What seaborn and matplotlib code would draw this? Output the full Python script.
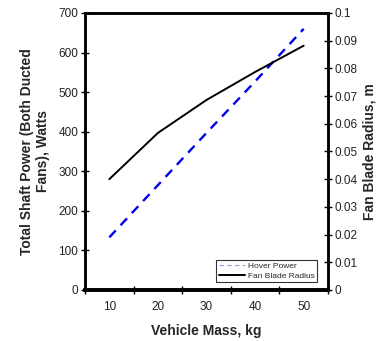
import matplotlib
matplotlib.use("Agg")
import matplotlib.pyplot as plt
import seaborn as sns
import pandas as pd
from matplotlib.ticker import FixedLocator, FuncFormatter

sns.set_theme(style="white")
plt.rcParams['font.family'] = ['Liberation Sans', 'DejaVu Sans']

mass = [10, 20, 30, 40, 50]
hover_power = [133, 265, 397, 527, 660]
fan_radius = [0.040, 0.0567, 0.0686, 0.0787, 0.0882]

df = pd.DataFrame({"mass": mass, "power": hover_power, "radius": fan_radius})

fig = plt.figure(figsize=(3.77, 3.41), dpi=100)
ax = fig.add_axes([0.2255, 0.1496, 0.6445, 0.8123])
ax2 = ax.twinx()

sns.lineplot(data=df, x="mass", y="power", ax=ax, color="#0000ee", lw=1.7,
             linestyle=(0, (4, 3)), label="Hover Power", legend=False)
sns.lineplot(data=df, x="mass", y="radius", ax=ax2, color="black", lw=1.4,
             label="Fan Blade Radius", legend=False)

ax.set_xlim(5, 55)
ax.set_ylim(0, 700)
ax2.set_ylim(0, 0.1)
ax.set_xticks(mass)
ax.xaxis.set_minor_locator(FixedLocator([5, 15, 25, 35, 45, 55]))
ax.tick_params(axis="x", which="major", length=0, labelsize=8.5, pad=8, colors="#222222")
ax.tick_params(axis="x", which="minor", length=6, width=1, direction="inout", color="black", bottom=True)
ax.set_yticks(range(0, 701, 100))
ax.tick_params(axis="y", length=6, width=1, direction="inout", labelsize=8.5, pad=2, colors="#222222")
ax2.set_yticks([i / 100 for i in range(0, 11)])
ax2.yaxis.set_major_formatter(FuncFormatter(lambda v, p: "0" if v == 0 else f"{v:g}"))
ax2.tick_params(axis="y", length=6, width=1, direction="inout", labelsize=8.5, pad=2, colors="#222222")
for a in (ax, ax2):
    a.tick_params(axis="both", color="black")
    for s in a.spines.values():
        s.set_color("black")
        s.set_linewidth(1.8)
    a.spines["bottom"].set_linewidth(2.6)

ax.set_xlabel("Vehicle Mass, kg", fontsize=10, fontweight="bold", labelpad=8)
ax.set_ylabel("Total Shaft Power (Both Ducted\nFans), Watts", fontsize=10, fontweight="bold", labelpad=6)
ax2.set_ylabel("Fan Blade Radius, m", fontsize=10, fontweight="bold", labelpad=3.5)
ax.grid(False)
ax2.grid(False)

h1, l1 = ax.get_legend_handles_labels()
h2, l2 = ax2.get_legend_handles_labels()
leg = ax2.legend(h1 + h2, l1 + l2, loc="lower right", bbox_to_anchor=(0.97, 0.012),
                 fontsize=6, frameon=True, fancybox=False, borderpad=0.25,
                 handlelength=3.2, handletextpad=0.3, labelspacing=0.3)
leg.get_frame().set_edgecolor("black")
leg.get_frame().set_linewidth(0.8)
leg.legend_handles[0].set_color("#9999ee")
leg.legend_handles[0].set_linewidth(0.8)

fig.savefig("out.png", dpi=100)
